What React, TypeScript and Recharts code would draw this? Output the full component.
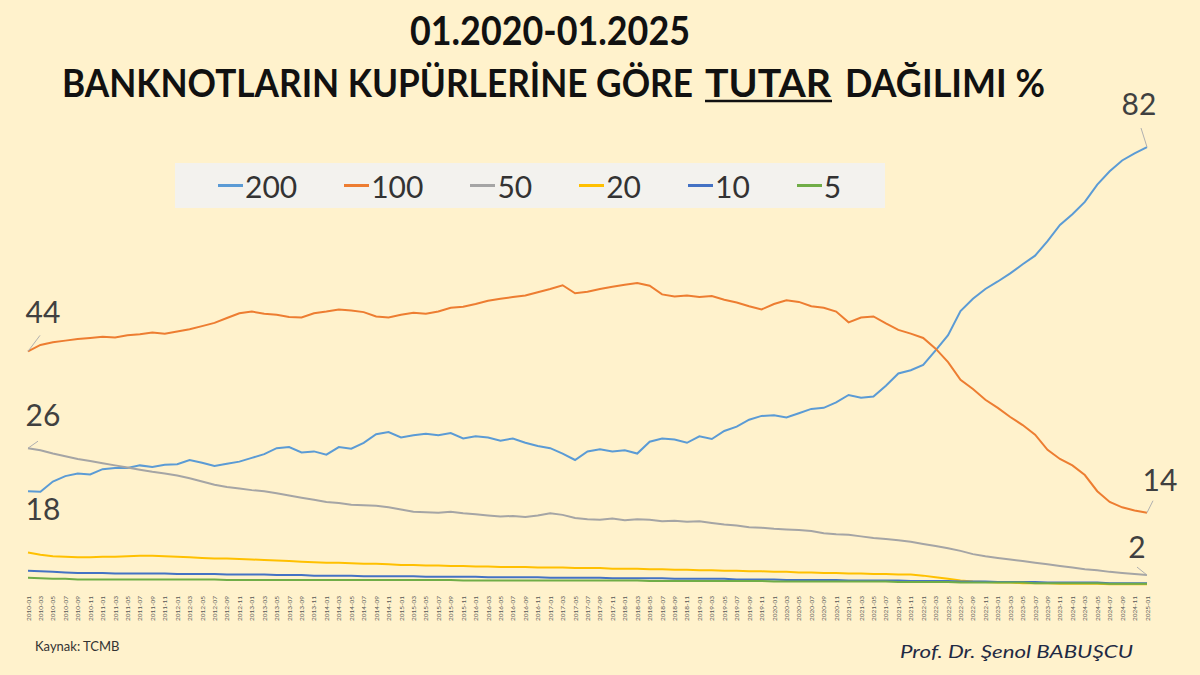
import React from 'react';
import { LineChart, Line, XAxis, YAxis, LabelList } from 'recharts';

// Tick labels: every second month, 2010-01 .. 2025-01
const dates: string[] = [];
for (let i = 0; i < 91; i++) {
  const m = i * 2;
  const y = 2010 + Math.floor(m / 12);
  const mo = (m % 12) + 1;
  dates.push(`${y}-${String(mo).padStart(2, '0')}`);
}

const s200 = [
  18.0, 17.9, 19.8, 20.8, 21.3, 21.1, 22.1, 22.3, 22.3, 22.8,
  22.5, 22.9, 23.0, 23.8, 23.3, 22.7, 23.1, 23.5, 24.2, 24.9,
  26.0, 26.2, 25.2, 25.4, 24.8, 26.2, 25.9, 27.0, 28.6, 29.0,
  28.0, 28.4, 28.7, 28.4, 28.8, 27.8, 28.2, 28.0, 27.4, 27.8,
  27.0, 26.4, 26.0, 25.0, 23.8, 25.4, 25.8, 25.4, 25.6, 25.0,
  27.2, 27.8, 27.6, 27.0, 28.2, 27.7, 29.2, 30.0, 31.3, 32.0,
  32.1, 31.7, 32.5, 33.3, 33.5, 34.5, 35.9, 35.4, 35.6, 37.6,
  39.9, 40.5, 41.5, 44.2, 47.0, 51.5, 53.8, 55.6, 57.0, 58.5,
  60.2, 61.8, 64.5, 67.5, 69.5, 71.8, 75.0, 77.5, 79.5, 80.8,
  82.0,
];

const s100 = [
  44.0, 45.2, 45.7, 46.0, 46.3, 46.5, 46.7, 46.6, 47.0, 47.2,
  47.5, 47.3, 47.7, 48.1, 48.7, 49.3, 50.2, 51.1, 51.4, 51.0,
  50.8, 50.4, 50.3, 51.1, 51.4, 51.8, 51.6, 51.3, 50.5, 50.3,
  50.8, 51.2, 51.0, 51.4, 52.1, 52.3, 52.8, 53.4, 53.8, 54.1,
  54.4, 55.0, 55.6, 56.3, 54.8, 55.1, 55.6, 56.0, 56.4, 56.7,
  56.2, 54.6, 54.2, 54.4, 54.1, 54.3, 53.6, 53.1, 52.4, 51.8,
  52.8, 53.5, 53.2, 52.4, 52.1, 51.4, 49.4, 50.3, 50.5, 49.2,
  48.0, 47.3, 46.5, 44.5, 42.0, 38.7, 37.0, 35.0, 33.5, 31.8,
  30.3, 28.5, 25.7, 24.0, 22.8, 21.0, 18.0, 16.0, 15.0, 14.4,
  14.0,
];

const s50 = [
  26.0, 25.6, 25.0, 24.5, 24.0, 23.6, 23.2, 22.8, 22.4, 22.0,
  21.6, 21.3, 20.9, 20.4, 19.8, 19.2, 18.8, 18.5, 18.2, 18.0,
  17.6, 17.2, 16.8, 16.4, 16.0, 15.8, 15.5, 15.4, 15.3, 15.0,
  14.6, 14.2, 14.1, 14.0, 14.2, 13.9, 13.7, 13.5, 13.3, 13.4,
  13.2, 13.5, 13.9, 13.6, 13.0, 12.8, 12.7, 12.9, 12.6, 12.8,
  12.7, 12.4, 12.5, 12.3, 12.4, 12.1, 11.8, 11.6, 11.3, 11.2,
  11.0, 10.9, 10.8, 10.6, 10.2, 10.0, 9.9, 9.6, 9.3, 9.1,
  8.9, 8.6, 8.2, 7.8, 7.4, 6.9, 6.3, 5.9, 5.6, 5.3,
  5.0, 4.7, 4.4, 4.1, 3.8, 3.5, 3.3, 3.0, 2.8, 2.6,
  2.4,
];

const s20 = [
  6.6, 6.2, 5.9, 5.8, 5.7, 5.7, 5.8, 5.8, 5.9, 6.0,
  6.0, 5.9, 5.8, 5.7, 5.6, 5.5, 5.5, 5.4, 5.3, 5.2,
  5.1, 5.0, 4.9, 4.8, 4.7, 4.7, 4.6, 4.5, 4.5, 4.4,
  4.3, 4.3, 4.2, 4.2, 4.1, 4.1, 4.0, 4.0, 3.9, 3.9,
  3.9, 3.8, 3.8, 3.8, 3.7, 3.7, 3.7, 3.6, 3.6, 3.6,
  3.5, 3.5, 3.4, 3.4, 3.3, 3.3, 3.2, 3.2, 3.1, 3.1,
  3.0, 3.0, 2.9, 2.9, 2.8, 2.8, 2.7, 2.7, 2.6, 2.6,
  2.5, 2.5, 2.3, 2.0, 1.7, 1.4, 1.2, 1.1, 1.0, 1.0,
  0.9, 0.9, 0.9, 0.8, 0.8, 0.8, 0.8, 0.7, 0.7, 0.7,
  0.7,
];

const s10 = [
  3.2, 3.1, 3.0, 2.9, 2.8, 2.8, 2.8, 2.7, 2.7, 2.7,
  2.7, 2.7, 2.6, 2.6, 2.6, 2.6, 2.5, 2.5, 2.5, 2.5,
  2.4, 2.4, 2.4, 2.3, 2.3, 2.3, 2.3, 2.2, 2.2, 2.2,
  2.2, 2.2, 2.1, 2.1, 2.1, 2.1, 2.1, 2.0, 2.0, 2.0,
  2.0, 2.0, 1.9, 1.9, 1.9, 1.9, 1.9, 1.8, 1.8, 1.8,
  1.8, 1.8, 1.7, 1.7, 1.7, 1.7, 1.7, 1.6, 1.6, 1.6,
  1.6, 1.5, 1.5, 1.5, 1.5, 1.5, 1.4, 1.4, 1.4, 1.4,
  1.4, 1.3, 1.3, 1.3, 1.3, 1.2, 1.2, 1.2, 1.1, 1.1,
  1.1, 1.1, 1.0, 1.0, 1.0, 1.0, 1.0, 0.9, 0.9, 0.9,
  0.9,
];

const s5 = [
  1.9, 1.8, 1.7, 1.7, 1.6, 1.6, 1.6, 1.6, 1.6, 1.6,
  1.6, 1.6, 1.6, 1.6, 1.6, 1.6, 1.5, 1.5, 1.5, 1.5,
  1.5, 1.5, 1.5, 1.5, 1.5, 1.5, 1.5, 1.5, 1.5, 1.5,
  1.5, 1.5, 1.5, 1.5, 1.5, 1.4, 1.4, 1.4, 1.4, 1.4,
  1.4, 1.4, 1.4, 1.4, 1.4, 1.4, 1.4, 1.4, 1.4, 1.4,
  1.3, 1.3, 1.3, 1.3, 1.3, 1.3, 1.3, 1.3, 1.3, 1.3,
  1.2, 1.2, 1.2, 1.2, 1.2, 1.2, 1.2, 1.2, 1.2, 1.2,
  1.1, 1.1, 1.1, 1.1, 1.1, 1.0, 1.0, 1.0, 1.0, 1.0,
  1.0, 0.9, 0.9, 0.9, 0.9, 0.9, 0.9, 0.8, 0.8, 0.8,
  0.8,
];

const seriesNames = ['200', '100', '50', '20', '10', '5'];
const seriesKeys = ['s200', 's100', 's50', 's20', 's10', 's5'];
const seriesColors = ['#5B9BD5', '#ED7D31', '#A5A5A5', '#FFC000', '#4472C4', '#70AD47'];
const seriesValues = [s200, s100, s50, s20, s10, s5];

const N = dates.length;
const data = dates.map((d, i) => {
  const row: Record<string, any> = { date: d };
  seriesKeys.forEach((k, j) => (row[k] = seriesValues[j][i]));
  return row;
});

type Ann = { dx: number; dy: number; lead?: [number, number] };
const annotations: Record<string, { first?: Ann; last?: Ann }> = {
  s200: { first: { dx: 15, dy: 29 }, last: { dx: -8, dy: -32, lead: [-6, -19] } },
  s100: { first: { dx: 15, dy: -28, lead: [12, -16] }, last: { dx: 13, dy: -22, lead: [6, -12] } },
  s50: { first: { dx: 15, dy: -22, lead: [10, -7] }, last: { dx: -10, dy: -17, lead: [-10, -8] } },
};

const FONT = "Lato, 'Open Sans', sans-serif";
const BG = '#FFF2CC';

const makeAnn = (key: string) => (props: any) => {
  const { x, y, index, value } = props;
  const a = annotations[key];
  if (!a) return null;
  const spec = index === 0 ? a.first : index === N - 1 ? a.last : undefined;
  if (!spec || x == null || y == null) return null;
  return (
    <g key={`${key}-${index}`}>
      {spec.lead && (
        <line x1={x} y1={y} x2={x + spec.lead[0]} y2={y + spec.lead[1]} stroke="#B0B0B0" strokeWidth={1} />
      )}
      <text x={x + spec.dx} y={y + spec.dy} textAnchor="middle" fontSize={30} fill="#404040" fontFamily={FONT}>
        {Math.round(Number(value))}
      </text>
    </g>
  );
};

const DateTick = (props: any) => {
  const { x, y, payload } = props;
  return (
    <text
      x={x}
      y={y}
      transform={`rotate(-90, ${x}, ${y})`}
      textAnchor="end"
      dominantBaseline="central"
      fontSize={6.5}
      fill="#595959"
      fontFamily={FONT}
    >
      {payload.value}
    </text>
  );
};

const TitlePart = ({ x, w, children }: { x: number; w: number; children: string }) => (
  <text x={0} y={0} transform={`translate(${x},97) scale(1,1.2)`} fontSize={32} fontWeight={700} fill="#111"
    fontFamily={FONT} textLength={w} lengthAdjust="spacingAndGlyphs">{children}</text>
);

export default function App() {
  return (
    <div style={{ position: 'absolute', left: 0, top: 0, width: 1200, height: 675, background: BG, overflow: 'hidden' }}>
      <svg width={1200} height={110} style={{ position: 'absolute', left: 0, top: 0 }}>
        <text x={550} y={45} textAnchor="middle" fontSize={40} fontWeight={700} fill="#111" fontFamily={FONT}
          textLength={280} lengthAdjust="spacingAndGlyphs">01.2020-01.2025</text>
        <TitlePart x={62} w={631}>BANKNOTLARIN KUPÜRLERİNE GÖRE</TitlePart>
        <TitlePart x={705} w={126}>TUTAR</TitlePart>
        <line x1={705} y1={101} x2={832} y2={101} stroke="#111" strokeWidth={2.5} />
        <TitlePart x={845} w={200}>DAĞILIMI %</TitlePart>
      </svg>

      <div style={{ position: 'absolute', left: 0, top: 0 }}>
        <LineChart width={1200} height={675} data={data} margin={{ top: 104, right: 53, bottom: 42, left: 28 }}>
          <XAxis dataKey="date" interval={0} axisLine={false} tickLine={false} height={45} tick={<DateTick />} />
          <YAxis hide domain={[0, 90]} />
          {seriesKeys.map((k, j) => (
            <Line
              key={k}
              dataKey={k}
              name={seriesNames[j]}
              stroke={seriesColors[j]}
              strokeWidth={2}
              dot={false}
              activeDot={false}
              isAnimationActive={false}
            >
              {annotations[k] && <LabelList dataKey={k} content={makeAnn(k)} />}
            </Line>
          ))}
        </LineChart>
      </div>

      <div
        style={{
          position: 'absolute', left: 175, top: 163, width: 710, height: 45, background: '#F3F2EE',
          display: 'flex', alignItems: 'center', paddingLeft: 43, boxSizing: 'border-box', gap: 47,
          fontFamily: FONT, fontSize: 30, color: '#333',
        }}
      >
        {seriesNames.map((n, j) => (
          <div key={n} style={{ display: 'flex', alignItems: 'center' }}>
            <div style={{ width: 25, height: 3, background: seriesColors[j], marginRight: 2 }} />
            <span style={{ lineHeight: '30px' }}>{n}</span>
          </div>
        ))}
      </div>

      <div style={{ position: 'absolute', left: 35, top: 638, fontFamily: FONT, fontSize: 13, color: '#333' }}>
        Kaynak: TCMB
      </div>
      <svg width={1200} height={675} style={{ position: 'absolute', left: 0, top: 0, pointerEvents: 'none' }}>
        <text x={900} y={658} fontSize={18} fontStyle="italic" fill="#1F2A44" fontFamily={FONT}
          textLength={233} lengthAdjust="spacingAndGlyphs">Prof. Dr. Şenol BABUŞCU</text>
      </svg>
    </div>
  );
}
